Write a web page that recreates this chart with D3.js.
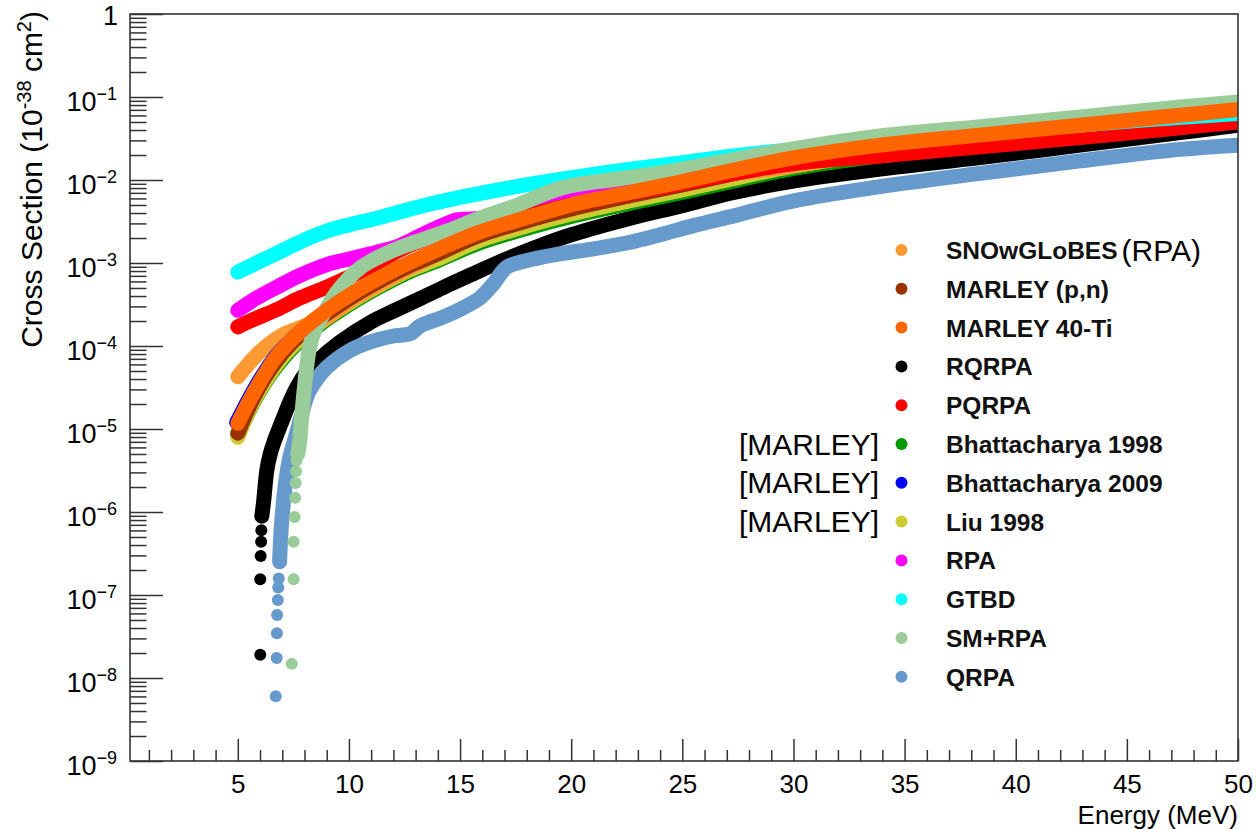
<!DOCTYPE html>
<html>
<head>
<meta charset="utf-8">
<script src="https://cdn.jsdelivr.net/npm/d3@7"></script>
<style>
  html, body { margin: 0; padding: 0; background: #ffffff; }
  svg { display: block; }
  text { font-family: "Liberation Sans", Arial, Helvetica, sans-serif; fill: #000; }
</style>
</head>
<body>
<svg id="chart" width="1256" height="829"></svg>
<script>
// ---- Cross sections (10^-38 cm^2) versus neutrino energy (MeV) ----
// Each series: [energy, cross section]. "Tail" arrays hold the sparse
// threshold points that are drawn as single markers.

const snowglobes = [[5.0,4.27e-5],[5.5,6.17e-5],[6.0,8.51e-5],[6.5,1.10e-4],[7.0,1.35e-4],[7.6,1.58e-4],[8.2,1.82e-4],[9.0,2.19e-4],[10.0,3.39e-4],[11.5,5.75e-4],[12.76,8.71e-4],[14.0,1.29e-3],[15.76,2.09e-3],[18.16,3.31e-3],[20.0,4.47e-3],[22.66,6.46e-3],[25.0,8.71e-3],[27.16,1.17e-2],[29.86,1.45e-2],[33.9,2.19e-2],[38.4,3.02e-2],[42.9,4.07e-2],[47.4,5.50e-2],[50.0,6.46e-2]];

const marleyPN = [[5.0,8.91e-6],[5.3,1.38e-5],[5.7,2.34e-5],[6.2,4.07e-5],[6.76,6.76e-5],[7.4,1.07e-4],[8.0,1.51e-4],[8.8,2.24e-4],[9.5,3.02e-4],[10.5,4.47e-4],[11.5,6.31e-4],[12.76,9.33e-4],[14.0,1.29e-3],[15.76,2.09e-3],[18.16,3.31e-3],[20.0,4.47e-3],[22.66,6.46e-3],[25.0,8.71e-3],[27.16,1.17e-2],[29.86,1.66e-2],[33.9,2.40e-2],[38.4,3.16e-2],[42.9,4.17e-2],[47.4,5.62e-2],[50.0,6.61e-2]];

const marley40Ti = [[5.0,1.17e-5],[5.3,1.70e-5],[5.7,2.69e-5],[6.2,4.57e-5],[6.76,7.59e-5],[7.4,1.17e-4],[8.0,1.66e-4],[8.8,2.45e-4],[9.5,3.31e-4],[10.5,4.90e-4],[11.5,6.92e-4],[12.76,1.02e-3],[14.0,1.45e-3],[15.76,2.29e-3],[18.16,3.63e-3],[20.0,5.01e-3],[22.66,7.08e-3],[25.0,9.55e-3],[27.16,1.29e-2],[29.86,1.82e-2],[33.9,2.63e-2],[38.4,3.47e-2],[42.9,4.57e-2],[47.4,6.03e-2],[50.0,7.08e-2]];

const rqrpaTail = [[6.01,1.91e-8],[6.01,1.55e-7],[6.03,2.95e-7],[6.05,4.37e-7],[6.06,6.03e-7]];
const rqrpa = [[6.08,8.91e-7],[6.16,1.32e-6],[6.31,3.24e-6],[6.46,5.01e-6],[6.61,6.76e-6],[7.0,1.26e-5],[7.5,2.63e-5],[8.0,4.47e-5],[8.5,6.31e-5],[9.6,1.12e-4],[11.0,1.95e-4],[12.0,2.63e-4],[13.2,3.72e-4],[14.2,5.01e-4],[15.5,7.24e-4],[17.1,1.12e-3],[18.5,1.58e-3],[20.0,2.19e-3],[22.66,3.47e-3],[25.0,4.90e-3],[27.16,6.92e-3],[29.86,9.55e-3],[33.9,1.35e-2],[38.4,1.86e-2],[42.9,2.63e-2],[47.4,3.72e-2],[50.0,4.57e-2]];

const pqrpa = [[5.0,1.70e-4],[5.8,2.14e-4],[6.76,2.75e-4],[7.8,3.80e-4],[9.0,5.13e-4],[10.0,6.76e-4],[11.26,1.00e-3],[12.45,1.51e-3],[14.0,2.19e-3],[15.5,2.82e-3],[17.5,3.47e-3],[20.0,5.01e-3],[25.0,9.12e-3],[30.0,1.58e-2],[33.9,1.95e-2],[38.4,2.51e-2],[42.9,3.24e-2],[47.4,4.27e-2],[50.0,5.01e-2]];

const bhatt1998 = [[5.0,8.32e-6],[5.3,1.26e-5],[5.7,2.09e-5],[6.2,3.55e-5],[6.76,5.75e-5],[7.4,9.12e-5],[8.0,1.29e-4],[8.8,1.91e-4],[9.5,2.57e-4],[10.5,3.80e-4],[11.5,5.37e-4],[12.76,7.94e-4],[14.0,1.07e-3],[15.76,1.70e-3],[18.16,2.69e-3],[20.0,3.63e-3],[22.66,5.25e-3],[25.0,7.08e-3],[27.16,9.55e-3],[29.86,1.35e-2],[33.9,1.95e-2],[38.4,2.63e-2],[42.9,3.63e-2],[47.4,5.13e-2],[50.0,6.17e-2]];

const bhatt2009 = [[4.95,1.20e-5],[5.3,1.82e-5],[5.7,2.88e-5],[6.2,4.79e-5],[6.76,7.76e-5],[7.4,1.17e-4],[8.0,1.62e-4],[8.8,2.40e-4],[9.5,3.16e-4],[10.5,4.68e-4],[11.5,6.61e-4],[12.76,9.77e-4],[14.0,1.35e-3],[15.76,2.14e-3],[18.16,3.39e-3],[20.0,4.68e-3],[22.66,6.76e-3],[25.0,9.12e-3],[27.16,1.23e-2],[29.86,1.74e-2],[33.9,2.51e-2],[38.4,3.31e-2],[42.9,4.37e-2],[47.4,5.75e-2],[50.0,6.92e-2]];

const liu1998 = [[5.0,7.94e-6],[5.3,1.26e-5],[5.7,2.14e-5],[6.2,3.63e-5],[6.76,6.03e-5],[7.4,9.55e-5],[8.0,1.35e-4],[8.8,2.00e-4],[9.5,2.69e-4],[10.5,3.98e-4],[11.5,5.62e-4],[12.76,8.32e-4],[14.0,1.12e-3],[15.76,1.82e-3],[18.16,2.88e-3],[20.0,3.89e-3],[22.66,5.62e-3],[25.0,7.59e-3],[27.16,1.02e-2],[29.86,1.45e-2],[33.9,2.09e-2],[38.4,2.75e-2],[42.9,3.80e-2],[47.4,5.25e-2],[50.0,6.31e-2]];

const rpa = [[5.0,2.69e-4],[5.8,3.72e-4],[6.76,5.13e-4],[7.8,7.08e-4],[9.0,9.55e-4],[10.0,1.12e-3],[11.26,1.35e-3],[12.17,1.58e-3],[13.06,2.04e-3],[14.0,2.69e-3],[14.86,3.31e-3],[15.5,3.39e-3],[17.0,3.80e-3],[20.4,6.46e-3],[24.0,9.12e-3],[28.5,1.38e-2],[33.0,2.19e-2],[38.0,3.16e-2],[44.0,4.68e-2],[50.0,6.31e-2]];

const gtbd = [[5.0,7.76e-4],[6.0,1.05e-3],[7.0,1.41e-3],[8.26,2.04e-3],[9.16,2.51e-3],[10.0,2.88e-3],[11.26,3.47e-3],[12.5,4.27e-3],[13.66,5.13e-3],[15.0,6.17e-3],[16.5,7.41e-3],[18.16,8.91e-3],[20.0,1.07e-2],[22.66,1.35e-2],[25.0,1.62e-2],[27.0,1.91e-2],[30.0,2.34e-2],[34.0,2.95e-2],[38.0,3.63e-2],[42.0,4.37e-2],[46.0,5.37e-2],[50.0,6.31e-2]];

const smRpaTail = [[7.43,1.48e-8],[7.51,1.55e-7],[7.51,4.37e-7],[7.56,8.71e-7],[7.58,1.48e-6],[7.60,2.24e-6],[7.62,3.09e-6],[7.64,4.17e-6]];
const smRpa = [[7.70,5.01e-6],[7.76,6.31e-6],[7.84,1.07e-5],[7.98,2.82e-5],[8.22,9.33e-5],[8.47,1.58e-4],[8.8,2.29e-4],[9.46,4.47e-4],[10.5,8.71e-4],[12.16,1.48e-3],[14.26,2.34e-3],[15.9,3.47e-3],[17.5,4.90e-3],[19.64,8.13e-3],[22.0,1.02e-2],[24.14,1.23e-2],[27.0,1.70e-2],[29.86,2.34e-2],[33.9,3.39e-2],[38.4,4.37e-2],[42.9,5.75e-2],[47.4,7.59e-2],[50.0,8.71e-2]];

const qrpaTail = [[6.71,6.03e-9],[6.75,1.74e-8],[6.76,3.47e-8],[6.77,5.75e-8],[6.80,8.71e-8],[6.82,1.23e-7],[6.84,1.58e-7]];
const qrpa = [[6.88,2.51e-7],[6.93,5.01e-7],[6.98,7.94e-7],[7.13,2.04e-6],[7.32,4.27e-6],[7.56,7.41e-6],[7.78,1.20e-5],[8.0,2.00e-5],[8.18,2.75e-5],[8.55,3.98e-5],[9.0,5.50e-5],[10.0,8.71e-5],[10.96,1.12e-4],[12.0,1.32e-4],[12.76,1.41e-4],[13.2,1.74e-4],[14.26,2.24e-4],[15.2,2.95e-4],[15.9,3.80e-4],[16.5,5.62e-4],[17.1,8.91e-4],[18.2,1.10e-3],[19.5,1.29e-3],[21.0,1.48e-3],[22.66,1.78e-3],[24.0,2.19e-3],[25.5,2.82e-3],[27.5,3.80e-3],[29.86,5.50e-3],[33.9,8.32e-3],[38.4,1.20e-2],[42.9,1.70e-2],[47.4,2.34e-2],[50.0,2.63e-2]];

// Legend entries, top to bottom
const legendNames = ["SNOwGLoBES","MARLEY (p,n)","MARLEY 40-Ti","RQRPA","PQRPA","Bhattacharya 1998","Bhattacharya 2009","Liu 1998","RPA","GTBD","SM+RPA","QRPA"];
const legendColors = ["#ff9933","#993300","#ff6600","#000000","#ff0000","#009900","#0000ff","#cccc33","#ff00ff","#00ffff","#99cc99","#6699cc"];
const legendPrefix = ["","","","","","[MARLEY]","[MARLEY]","[MARLEY]","","","",""];
const legendSuffix = ["(RPA)","","","","","","","","","","",""];

// Axis ticks
const xMajorTicks = [5,10,15,20,25,30,35,40,45,50];
const yDecadeExponents = [-9,-8,-7,-6,-5,-4,-3,-2,-1,0];

// ---------------------------------------------------------------------
const svg = d3.select("#chart");
const frame = { left: 130, right: 1238, top: 14, bottom: 761 };

const x = d3.scaleLinear().domain([0.15, 50]).range([frame.left, frame.right]);
const y = d3.scaleLog().domain([1e-9, 1]).range([frame.bottom, frame.top]);

svg.append("rect").attr("width", 1256).attr("height", 829).attr("fill", "#fff");

svg.append("defs").append("clipPath").attr("id", "plotArea")
  .append("rect")
  .attr("x", frame.left).attr("y", frame.top)
  .attr("width", frame.right - frame.left).attr("height", frame.bottom - frame.top);

// Series in drawing order (first is at the bottom)
const layers = [
  { band: rpa,        color: "#ff00ff" },
  { band: rqrpa,      tail: rqrpaTail, color: "#000000" },
  { band: bhatt1998,  color: "#009900" },
  { band: liu1998,    color: "#cccc33" },
  { band: snowglobes, color: "#ff9933" },
  { band: bhatt2009,  color: "#0000ff" },
  { band: marleyPN,   color: "#993300" },
  { band: pqrpa,      color: "#ff0000" },
  { band: gtbd,       color: "#00ffff" },
  { band: qrpa,       tail: qrpaTail, color: "#6699cc" },
  { band: smRpa,      tail: smRpaTail, color: "#99cc99" },
  { band: marley40Ti, color: "#ff6600" }
];

const markerR = 6;
const bandWidth = 15;

const line = d3.line()
  .x(d => x(d[0]))
  .y(d => y(d[1]))
  .curve(d3.curveCatmullRom.alpha(0.5));

const plot = svg.append("g").attr("clip-path", "url(#plotArea)");

layers.forEach(s => {
  const g = plot.append("g");
  g.append("path")
    .datum(s.band)
    .attr("d", line)
    .attr("fill", "none")
    .attr("stroke", s.color)
    .attr("stroke-width", bandWidth)
    .attr("stroke-linecap", "round")
    .attr("stroke-linejoin", "round");
  if (s.tail) {
    g.selectAll("circle")
      .data(s.tail)
      .join("circle")
      .attr("cx", d => x(d[0]))
      .attr("cy", d => y(d[1]))
      .attr("r", markerR)
      .attr("fill", s.color);
  }
});

// ---- Axes ----
const axisColor = "#333";

// x axis: major and minor ticks pointing into the frame
const xAxisG = svg.append("g")
  .attr("transform", `translate(0,${frame.bottom})`)
  .call(d3.axisBottom(x)
    .tickValues(xMajorTicks)
    .tickSizeInner(-22)
    .tickSizeOuter(0)
    .tickPadding(14)
    .tickFormat(d3.format("d")));
xAxisG.select(".domain").remove();
xAxisG.selectAll(".tick line").attr("stroke", axisColor).attr("stroke-width", 1.5);
xAxisG.selectAll(".tick text")
  .attr("font-size", 26)
  .attr("font-family", "'Liberation Sans', Arial, sans-serif")
  .attr("fill", "#000");

const xMinor = d3.range(1, 50).filter(v => v % 5 !== 0);
const xMinorG = svg.append("g")
  .attr("transform", `translate(0,${frame.bottom})`)
  .call(d3.axisBottom(x).tickValues(xMinor).tickSizeInner(-11).tickSizeOuter(0).tickFormat(""));
xMinorG.select(".domain").remove();
xMinorG.selectAll(".tick line").attr("stroke", axisColor).attr("stroke-width", 1.5);

// y axis: decades and 2..9 sub-ticks
const yMajor = yDecadeExponents.map(e => Math.pow(10, e));
const yMinor = [];
yDecadeExponents.slice(0, -1).forEach(e => {
  for (let k = 2; k <= 9; k++) yMinor.push(k * Math.pow(10, e));
});

const yAxisG = svg.append("g")
  .attr("transform", `translate(${frame.left},0)`)
  .call(d3.axisLeft(y).tickValues(yMajor).tickSizeInner(-33).tickSizeOuter(0).tickFormat(""));
yAxisG.select(".domain").remove();
yAxisG.selectAll(".tick line").attr("stroke", axisColor).attr("stroke-width", 1.5);

const yMinorG = svg.append("g")
  .attr("transform", `translate(${frame.left},0)`)
  .call(d3.axisLeft(y).tickValues(yMinor).tickSizeInner(-16.5).tickSizeOuter(0).tickFormat(""));
yMinorG.select(".domain").remove();
yMinorG.selectAll(".tick line").attr("stroke", axisColor).attr("stroke-width", 1.5);

// y tick labels with superscript exponents
const yLabels = svg.append("g");
yDecadeExponents.forEach(e => {
  const ty = y(Math.pow(10, e));
  if (e === 0) {
    yLabels.append("text")
      .attr("x", 118).attr("y", ty + 11)
      .attr("text-anchor", "end")
      .attr("font-size", 27)
      .text("1");
  } else {
    const t = yLabels.append("text")
      .attr("x", 117).attr("y", ty + 14)
      .attr("text-anchor", "end")
      .attr("font-size", 27);
    t.append("tspan").text("10");
    t.append("tspan").attr("font-size", 18).attr("dy", -11).text("\u2212" + Math.abs(e));
  }
});

// Frame
svg.append("rect")
  .attr("x", frame.left).attr("y", frame.top)
  .attr("width", frame.right - frame.left).attr("height", frame.bottom - frame.top)
  .attr("fill", "none")
  .attr("stroke", axisColor)
  .attr("stroke-width", 1.6);

// Axis titles
svg.append("text")
  .attr("x", frame.right).attr("y", 824)
  .attr("text-anchor", "end")
  .attr("font-size", 26)
  .text("Energy (MeV)");

const yTitle = svg.append("text")
  .attr("transform", "translate(42,11) rotate(-90)")
  .attr("text-anchor", "end")
  .attr("font-size", 30);
yTitle.append("tspan").text("Cross Section (10");
yTitle.append("tspan").attr("font-size", 20).attr("dy", -11).text("-38");
yTitle.append("tspan").attr("dy", 11).text(" cm");
yTitle.append("tspan").attr("font-size", 20).attr("dy", -11).text("2");
yTitle.append("tspan").attr("dy", 11).text(")");

// ---- Legend ----
const legendTop = 250, legendStep = 38.8;
const legend = svg.append("g");
legendNames.forEach((name, i) => {
  const ly = legendTop + i * legendStep;
  legend.append("circle")
    .attr("cx", 901.5).attr("cy", ly).attr("r", markerR)
    .attr("fill", legendColors[i]);
  const t = legend.append("text")
    .attr("x", 946).attr("y", ly)
    .attr("dominant-baseline", "central");
  t.append("tspan")
    .attr("font-size", 24.5).attr("font-weight", "bold").attr("fill", "#111")
    .text(name);
  if (legendSuffix[i]) {
    t.append("tspan").attr("dx", 4).attr("font-size", 30).text(legendSuffix[i]);
  }
  if (legendPrefix[i]) {
    legend.append("text")
      .attr("x", 879).attr("y", ly)
      .attr("text-anchor", "end")
      .attr("dominant-baseline", "central")
      .attr("font-size", 30)
      .text(legendPrefix[i]);
  }
});
</script>
</body>
</html>
